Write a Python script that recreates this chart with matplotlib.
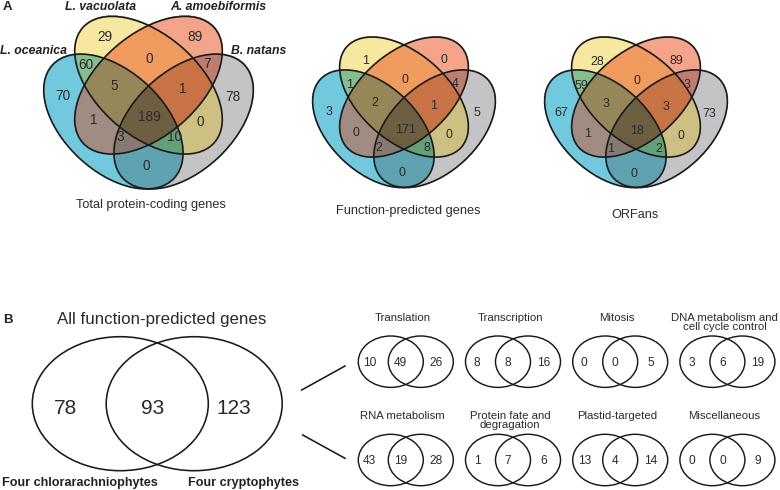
import numpy as np
import matplotlib
matplotlib.use('Agg')
import matplotlib.pyplot as plt
from matplotlib.patches import Ellipse
from matplotlib.colors import to_rgba

plt.rcParams['font.family'] = ['Liberation Sans', 'DejaVu Sans']

# ---- data (A) ----
species = ['L. oceanica', 'L. vacuolata', 'A. amoebiformis', 'B. natans']
# region keys: B=L. oceanica, Y=L. vacuolata, R=A. amoebiformis, G=B. natans
regions = ['B', 'Y', 'R', 'G', 'BY', 'YR', 'RG', 'BG', 'BYR', 'YRG', 'BR', 'BYRG', 'YG', 'BRG', 'BYG']
total_genes = [70, 29, 89, 78, 60, 0, 7, 0, 5, 1, 1, 189, 0, 3, 10]
function_genes = [3, 1, 0, 5, 1, 0, 4, 0, 2, 1, 0, 171, 0, 2, 8]
orfan_genes = [67, 28, 89, 73, 59, 0, 3, 0, 3, 3, 1, 18, 0, 1, 2]
panel_titles = ['Total protein-coding genes', 'Function-predicted genes', 'ORFans']

# ---- data (B) ----
b_groups = ['Four chlorarachniophytes', 'Four cryptophytes']
b_counts = [78, 93, 123]
categories = ['Translation', 'Transcription', 'Mitosis', 'DNA metabolism and\ncell cycle control',
              'RNA metabolism', 'Protein fate and\ndegragation', 'Plastid-targeted', 'Miscellaneous']
chlor_only = [10, 8, 0, 3, 43, 1, 13, 0]
shared = [49, 8, 0, 6, 19, 7, 4, 0]
crypto_only = [26, 16, 5, 19, 28, 6, 14, 9]

# label spots inside the 4-set layout, (dx, dy) as fraction of panel height
label_pos = [(-0.501, 0.486), (-0.257, 0.144), (0.270, 0.142), (0.491, 0.493),
             (-0.364, 0.306), (0.005, 0.272), (0.339, 0.303), (-0.011, 0.897),
             (-0.198, 0.429), (0.200, 0.448), (-0.321, 0.628), (0.007, 0.608),
             (0.300, 0.641), (-0.167, 0.730), (0.152, 0.730)]

region_colors = {1: '#72c9de', 2: '#f7e8a0', 4: '#f4a48a', 8: '#c4c4c6',
                 3: '#87be91', 5: '#a08c82', 9: '#5fa2b2', 6: '#f09b5f',
                 10: '#cdc082', 12: '#be7d70', 7: '#96875a', 11: '#64a078',
                 13: '#877a73', 14: '#c87346', 15: '#6e5f41'}
lut = np.zeros((16, 4))
for k, c in region_colors.items():
    lut[k] = to_rgba(c)

LINE = '#1a1a1a'
TXT = '#2a2a2a'

fig = plt.figure(figsize=(7.8, 4.9), dpi=100)
ax = fig.add_axes([0, 0, 1, 1])


def ellipse_specs(cx, top, H):
    # blue, yellow, red, gray: centre x, centre y, semi-major, semi-minor, angle
    return [(cx - 0.205 * H, top + 0.612 * H, 0.485 * H, 0.292 * H, 43),
            (cx, top + 0.40 * H, 0.51 * H, 0.295 * H, 41),
            (cx, top + 0.40 * H, 0.51 * H, 0.295 * H, -41),
            (cx + 0.205 * H, top + 0.612 * H, 0.485 * H, 0.292 * H, -43)]


def quad_venn(cx, top, H, counts, fs, shift, title, title_xy):
    specs = ellipse_specs(cx, top, H)
    xs = np.arange(cx - 0.7 * H, cx + 0.7 * H, 0.5)
    ys = np.arange(top - 0.05 * H, top + 1.08 * H, 0.5)
    X, Y = np.meshgrid(xs, ys)
    code = np.zeros(X.shape, dtype=int)
    for bit, (ex, ey, a, b, ang) in enumerate(specs):
        t = np.deg2rad(ang)
        dx, dy = X - ex, Y - ey
        u = dx * np.cos(t) + dy * np.sin(t)
        w = -dx * np.sin(t) + dy * np.cos(t)
        code |= (((u / a) ** 2 + (w / b) ** 2) <= 1).astype(int) << bit
    ax.imshow(lut[code], extent=(xs[0] - 0.25, xs[-1] + 0.25, ys[-1] + 0.25, ys[0] - 0.25),
              interpolation='antialiased', zorder=1)
    for ex, ey, a, b, ang in specs:
        ax.add_patch(Ellipse((ex, ey), 2 * a, 2 * b, angle=ang, fill=False,
                             ec=LINE, lw=1.2, zorder=2))
    for (fx, fy), n in zip(label_pos, counts):
        ax.text(cx + fx * H, top + (fy + shift) * H, str(n), fontsize=fs,
                ha='center', va='center', color=TXT, zorder=3)
    ax.text(title_xy[0], title_xy[1], title, fontsize=9.2, ha='center', va='center', color=TXT)


quad_venn(148.5, 16.7, 171.3, total_genes, 9.8, -0.025, panel_titles[0], (151, 205))
quad_venn(404, 37.3, 149.4, function_genes, 8.9, 0.012, panel_titles[1], (408, 210.7))
quad_venn(636, 37.3, 149.4, orfan_genes, 8.9, 0.018, panel_titles[2], (635, 215))

for name, xy in zip(species, [(33.3, 50.7), (101, 6.7), (218.7, 6.7), (258.3, 50.7)]):
    ax.text(xy[0], xy[1], name, fontsize=8.8, fontweight='bold', fontstyle='italic',
            ha='center', va='center', color='#222222')

ax.text(7, 7.5, 'A', fontsize=9.5, fontweight='bold', ha='center', va='center', color='#222222')
ax.text(7.5, 319.5, 'B', fontsize=9.5, fontweight='bold', ha='center', va='center', color='#222222')

# ---- B: big two-set diagram ----
ax.text(161.7, 319, 'All function-predicted genes', fontsize=12.2, ha='center', va='center', color=TXT)
for ex in (120.3, 194.2):
    ax.add_patch(Ellipse((ex, 403.7), 176, 134, fill=False, ec=LINE, lw=1.15))
for x, n in zip([65.7, 152.3, 233.3], b_counts):
    ax.text(x, 408, str(n), fontsize=15, ha='center', va='center', color=TXT)
for x, g in zip([80, 243], b_groups):
    ax.text(x, 483, g, fontsize=9.1, fontweight='bold', ha='center', va='center', color='#222222')

ax.plot([301.7, 345], [390, 366], color=LINE, lw=1.15)
ax.plot([302.7, 345], [435, 458.3], color=LINE, lw=1.15)

# ---- B: small diagrams per category ----
for i, cat in enumerate(categories):
    row, col = divmod(i, 4)
    lc = 390.8 + 107.2 * col
    cy = 361.7 + 98.3 * row
    for ex in (lc, lc + 30):
        ax.add_patch(Ellipse((ex, cy), 65, 51.4, fill=False, ec=LINE, lw=1.05))
    for dx, n in zip([-21, 10, 45.5], [chlor_only[i], shared[i], crypto_only[i]]):
        ax.text(lc + dx, cy + 0.8, str(n), fontsize=8.6, ha='center', va='center', color=TXT)
    ax.text(lc + 12, cy - 49, cat, fontsize=8.2, ha='center', va='top', color=TXT,
            linespacing=0.9)

ax.set_xlim(0, 780)
ax.set_ylim(490, 0)
ax.set_aspect('auto')
ax.axis('off')
fig.savefig('out.png', dpi=100, facecolor='white')
